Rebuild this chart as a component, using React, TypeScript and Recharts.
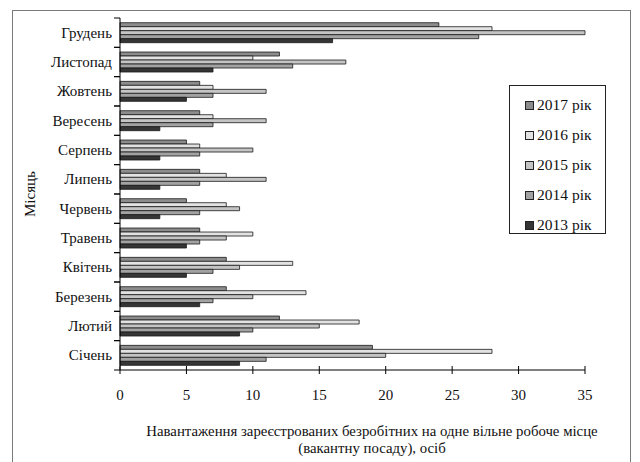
// Навантаження безробітних на одне вільне робоче місце, по місяцях 2013–2017.
import React from "react";
import { Bar, BarChart, Legend, XAxis, YAxis } from "recharts";

const months = [
  "Січень", "Лютий", "Березень", "Квітень", "Травень", "Червень",
  "Липень", "Серпень", "Вересень", "Жовтень", "Листопад", "Грудень",
];
const v2017 = [19, 12, 8, 8, 6, 5, 6, 5, 6, 6, 12, 24];
const v2016 = [28, 18, 14, 13, 10, 8, 8, 6, 7, 7, 10, 28];
const v2015 = [20, 15, 10, 9, 8, 9, 11, 10, 11, 11, 17, 35];
const v2014 = [11, 10, 7, 7, 6, 6, 6, 6, 7, 7, 13, 27];
const v2013 = [9, 9, 6, 5, 5, 3, 3, 3, 3, 5, 7, 16];
const xTicks = [0, 5, 10, 15, 20, 25, 30, 35];

const series = [
  { key: "r2017", name: "2017 рік", fill: "#8c8c8c" },
  { key: "r2016", name: "2016 рік", fill: "#e2e2e2" },
  { key: "r2015", name: "2015 рік", fill: "#c4c4c4" },
  { key: "r2014", name: "2014 рік", fill: "#a2a2a2" },
  { key: "r2013", name: "2013 рік", fill: "#353535" },
];

const data = months.map((m, i) => ({
  month: m,
  r2017: v2017[i],
  r2016: v2016[i],
  r2015: v2015[i],
  r2014: v2014[i],
  r2013: v2013[i],
}));

const FONT = '"Liberation Serif", "Times New Roman", serif';
const W = 640;
const H = 462;
const PLOT_LEFT = 120;
const PLOT_TOP = 18;
const PLOT_BOTTOM = 370;
const BAND = (PLOT_BOTTOM - PLOT_TOP) / months.length;

function MonthTick({ y, payload }: any) {
  return (
    <g>
      <line x1={PLOT_LEFT - 6} x2={PLOT_LEFT} y1={y - BAND / 2} y2={y - BAND / 2} stroke="#000" />
      <line x1={PLOT_LEFT - 6} x2={PLOT_LEFT} y1={y + BAND / 2} y2={y + BAND / 2} stroke="#000" />
      <text x={PLOT_LEFT - 8} y={y} textAnchor="end" dominantBaseline="central" fontSize={15} fill="#111" style={{ fontFamily: FONT }}>
        {payload.value}
      </text>
    </g>
  );
}

function ValueTick({ x, payload }: any) {
  return (
    <g>
      <line x1={x} x2={x} y1={PLOT_BOTTOM - 4} y2={PLOT_BOTTOM + 4} stroke="#000" />
      <text x={x} y={395} textAnchor="middle" dominantBaseline="central" fontSize={15} fill="#111" style={{ fontFamily: FONT }}>
        {payload.value}
      </text>
    </g>
  );
}

function LegendBox() {
  return (
    <div style={{ border: "1px solid #222", background: "#fff", width: 97, height: 149, boxSizing: "border-box", padding: "4px 0 0 15px" }}>
      {series.map((s) => (
        <div key={s.key} style={{ display: "flex", alignItems: "center", height: 30, fontFamily: FONT, fontSize: 15.5, color: "#111" }}>
          <span style={{ width: 7, height: 7, flexShrink: 0, border: "1px solid #222", background: s.fill, marginRight: 3 }} />
          {s.name}
        </div>
      ))}
    </div>
  );
}

export default function App() {
  return (
    <div style={{ position: "relative", width: W, height: H, overflow: "hidden", background: "#fff", fontFamily: FONT }}>
      <style>{`body{margin:0}`}</style>
      <div style={{ position: "absolute", left: 12, top: 10, width: 617, height: 470, border: "1px solid #7a7a7a" }} />
      <BarChart
        width={W}
        height={H}
        data={data}
        layout="vertical"
        margin={{ top: PLOT_TOP, right: 55, bottom: 62, left: 0 }}
        barCategoryGap="16%"
        barGap={0}
      >
        <XAxis
          type="number"
          domain={[0, 35]}
          ticks={xTicks}
          height={30}
          axisLine={{ stroke: "#000" }}
          tickLine={false}
          tick={<ValueTick />}
          label={{
            content: () => (
              <text x={372} textAnchor="middle" fontSize={14.8} fill="#111" style={{ fontFamily: FONT }}>
                <tspan x={372} y={436}>Навантаження зареєстрованих безробітних на одне вільне робоче місце</tspan>
                <tspan x={372} y={453}>(вакантну посаду), осіб</tspan>
              </text>
            ),
          }}
        />
        <YAxis
          type="category"
          dataKey="month"
          reversed
          width={PLOT_LEFT}
          axisLine={{ stroke: "#000" }}
          tickLine={false}
          tick={<MonthTick />}
          interval={0}
          label={{
            content: () => (
              <text x={30} y={194} transform="rotate(-90 30 194)" textAnchor="middle" dominantBaseline="central" fontSize={15} fill="#111" style={{ fontFamily: FONT }}>
                Місяць
              </text>
            ),
          }}
        />
        <Legend
          layout="vertical"
          align="center"
          verticalAlign="middle"
          wrapperStyle={{ position: "absolute", left: 509, top: 85, width: 97, height: 149 }}
          content={() => <LegendBox />}
        />
        {series.map((s) => (
          <Bar key={s.key} dataKey={s.key} name={s.name} fill={s.fill} stroke="#1a1a1a" strokeWidth={0.8} isAnimationActive={false} />
        ))}
      </BarChart>
    </div>
  );
}
